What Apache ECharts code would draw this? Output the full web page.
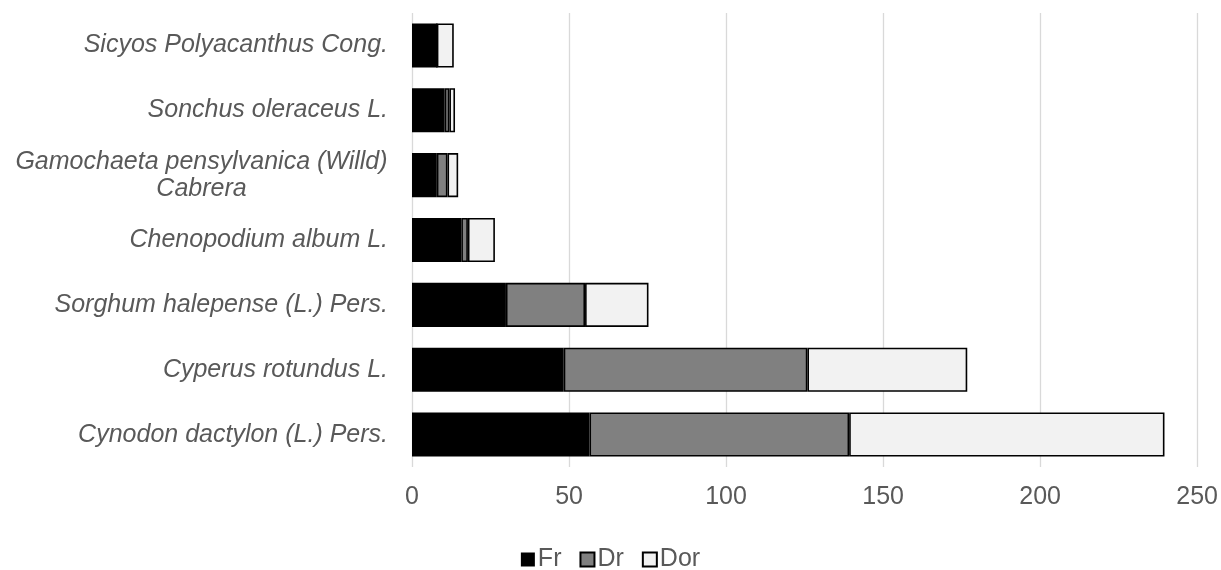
<!DOCTYPE html>
<html><head><meta charset="utf-8">
<script src="https://cdn.jsdelivr.net/npm/echarts@6/dist/echarts.min.js"></script>
<style>html,body{margin:0;padding:0;background:#fff}#c{width:1221px;height:570px}</style>
</head><body><div id="c"></div>
<script>
var categories = ['Cynodon dactylon (L.) Pers.', 'Cyperus rotundus L.', 'Sorghum halepense (L.) Pers.', 'Chenopodium album L.', 'Gamochaeta pensylvanica (Willd) Cabrera', 'Sonchus oleraceus L.', 'Sicyos Polyacanthus Cong.'];
var fr  = [56.5, 48.3, 29.9, 15.7, 7.9, 10.4, 7.9];
var dr  = [82.7, 77.6, 25.2, 2.1, 3.4, 1.5, 0];
var dor = [100.4, 50.9, 20.2, 8.6, 3.4, 1.8, 5.4];
var xTicks = [0, 50, 100, 150, 200, 250];

var chart = echarts.init(document.getElementById('c'));
var font = 'Liberation Sans, Arial, sans-serif';
function mk(name, data, color) {
  return {name: name, type: 'bar', stack: 's', data: data, barWidth: '68%',
    itemStyle: {color: color, borderColor: '#000', borderWidth: 1.6}};
}
var ctx = document.createElement('canvas').getContext('2d');
ctx.font = 'italic 25px ' + font;
var gW = Math.ceil(ctx.measureText('Gamochaeta pensylvanica (Willd)').width);
chart.setOption({
  animation: false,
  grid: {left: 412, right: 21, top: 13, bottom: 103},
  legend: {top: 542, left: 'center', icon: 'rect', itemWidth: 14, itemHeight: 14, itemGap: 18,
    textStyle: {fontFamily: font, fontSize: 25, color: '#595959', padding: [0, 0, 0, -2]},
    data: [{name: 'Fr', itemStyle: {borderWidth: 0}}, {name: 'Dr'}, {name: 'Dor'}]},
  xAxis: {type: 'value', min: xTicks[0], max: xTicks[xTicks.length - 1], interval: 50,
    axisLine: {show: false}, axisTick: {show: false},
    splitLine: {lineStyle: {color: '#d9d9d9', width: 1.3}},
    axisLabel: {fontFamily: font, fontSize: 25, color: '#595959', margin: 18}},
  yAxis: {type: 'category', data: categories,
    axisLine: {show: false}, axisTick: {show: false},
    axisLabel: {fontFamily: font, fontSize: 25, fontStyle: 'italic', color: '#595959', margin: 24,
      formatter: function (v) {
        if (v.indexOf('Gamochaeta') === 0) {
          return '{g|Gamochaeta pensylvanica (Willd)}\n{g|Cabrera}';
        }
        return v;
      },
      rich: {g: {width: gW, align: 'center', fontFamily: font, fontSize: 25, fontStyle: 'italic', color: '#595959', lineHeight: 27}}
    }},
  series: [mk('Fr', fr, '#000000'), mk('Dr', dr, '#808080'), mk('Dor', dor, '#f2f2f2')]
});
</script></body></html>
